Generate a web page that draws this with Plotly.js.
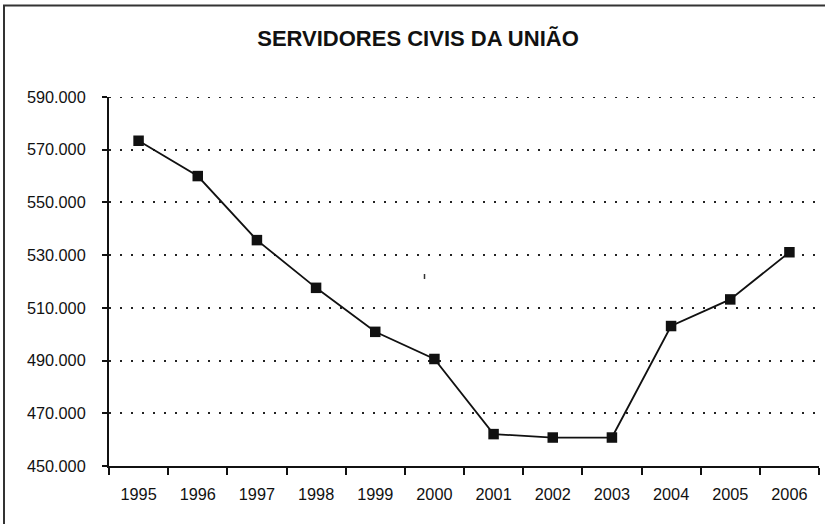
<!DOCTYPE html>
<html>
<head>
<meta charset="utf-8">
<script src="https://cdn.plot.ly/plotly-3.0.1.min.js"></script>
<style>html,body{margin:0;padding:0;background:#fff;}#chart{width:825px;height:524px;}</style>
</head>
<body>
<div id="chart"></div>
<script>
var years = ["1995","1996","1997","1998","1999","2000","2001","2002","2003","2004","2005","2006"];
var servidores = [573400, 560000, 535700, 517600, 500900, 490600, 462100, 460800, 460800, 503100, 513200, 531100];
var yTicks = [450000, 470000, 490000, 510000, 530000, 550000, 570000, 590000];
var chartTitle = "SERVIDORES CIVIS DA UNIÃO";

var trace = {
  x: years,
  y: servidores,
  type: "scatter",
  mode: "lines+markers",
  line: {color: "#111", width: 1.8},
  marker: {symbol: "square", size: 10.5, color: "#111"},
  hoverinfo: "x+y"
};

function px2x(p){ return (p-109)/710; }
function px2y(p){ return (466-p)/369; }

var layout = {
  width: 825, height: 524,
  margin: {l: 109, r: 6, t: 97, b: 58},
  paper_bgcolor: "#fff", plot_bgcolor: "#fff",
  separators: ",.",
  showlegend: false,
  font: {family: "Liberation Sans, Arial, sans-serif", size: 16, color: "#111"},
  title: {
    text: "<b>" + chartTitle + "</b>",
    font: {family: "Liberation Sans, Arial, sans-serif", size: 22, color: "#111"},
    x: 418/825, xref: "container", xanchor: "center",
    y: 1 - 38/524, yref: "container", yanchor: "middle"
  },
  xaxis: {
    type: "category",
    tickson: "boundaries",
    ticks: "outside", ticklen: 7, tickwidth: 2, tickcolor: "#111",
    showline: true, linecolor: "#111", linewidth: 2,
    showgrid: false, zeroline: false,
    ticklabelstandoff: 12,
    tickfont: {size: 16.3, color: "#111"},
    range: [-0.5, 11.5]
  },
  yaxis: {
    range: [450000, 590000],
    tickvals: yTicks,
    tickformat: ",.0f",
    ticks: "outside", ticklen: 5, tickwidth: 2, tickcolor: "#111",
    showline: true, linecolor: "#111", linewidth: 2,
    showgrid: true, gridcolor: "#222", gridwidth: 2, griddash: "2px,9px",
    zeroline: false,
    ticklabelstandoff: 13,
    tickfont: {size: 16.3, color: "#111"}
  },
  shapes: [{
    type: "rect", xref: "paper", yref: "paper",
    x0: px2x(4), x1: px2x(840),
    y0: px2y(540), y1: px2y(5.5),
    line: {color: "#333", width: 2}, fillcolor: "rgba(0,0,0,0)"
  }, {
    type: "line", xref: "paper", yref: "y",
    x0: 0, x1: 1,
    y0: yTicks[yTicks.length-1], y1: yTicks[yTicks.length-1],
    line: {color: "#222", width: 2, dash: "2px,9px"}
  }, {
    type: "line", xref: "paper", yref: "paper",
    x0: px2x(424.5), x1: px2x(424.5),
    y0: px2y(279), y1: px2y(274),
    line: {color: "#333", width: 1.5}
  }]
};

Plotly.newPlot("chart", [trace], layout, {displayModeBar: false, staticPlot: true});
</script>
</body>
</html>
